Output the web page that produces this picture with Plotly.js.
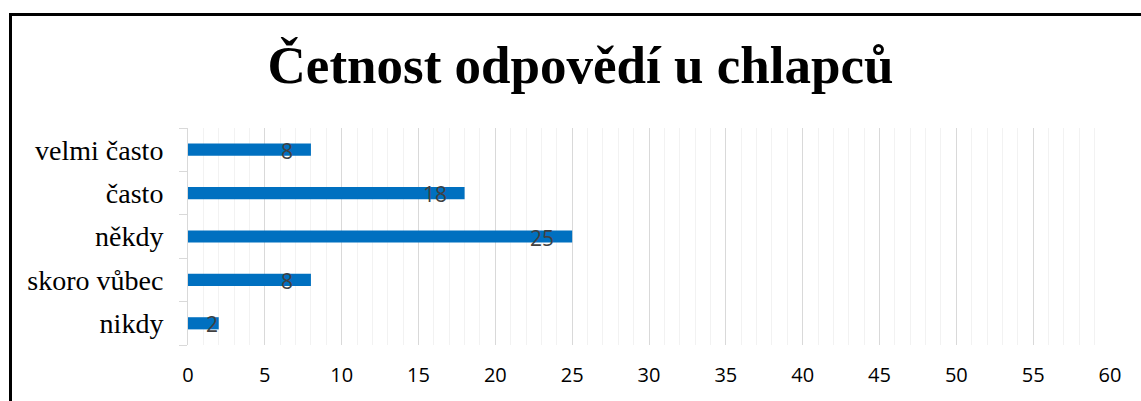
<!DOCTYPE html>
<html>
<head>
<meta charset="utf-8">
<script src="https://cdn.plot.ly/plotly-3.0.1.min.js"></script>
<style>
  html, body { margin: 0; padding: 0; background: #ffffff; }
  #chart { width: 1141px; height: 401px; position: relative; }
  #frame { position: absolute; left: 9px; top: 13px; width: 1200px; height: 500px;
           border-left: 3px solid #000; border-top: 3px solid #000; pointer-events: none; z-index: 5; }
  #wrap { position: relative; width: 1141px; height: 401px; overflow: hidden; }
</style>
</head>
<body>
<div id="wrap">
  <div id="chart"></div>
  <div id="frame"></div>
</div>
<script>
const categories = ['nikdy', 'skoro vůbec', 'někdy', 'často', 'velmi často'];
const counts = [2, 8, 25, 18, 8];
const labels = ['2', '8', '25', '18', '8'];
const titleText = 'Četnost odpovědí u chlapců';

const xMax = 60;
const plotLeft = 188, plotRight = 1110;
const pxPerUnit = (plotRight - plotLeft) / xMax;

const annotations = counts.map((v, i) => {
  const barPx = v * pxPerUnit;
  const approxW = labels[i].length * 11.5;
  const short = barPx - 16 - approxW < 16;
  return {
    x: short ? 0 : v, y: categories[i], xref: 'x', yref: 'y',
    text: labels[i], showarrow: false,
    xanchor: short ? 'left' : 'right', xshift: short ? 16 : -16, yshift: -1,
    font: { family: 'Open Sans', size: 21, color: '#404040' }
  };
});

const trace = {
  type: 'bar', orientation: 'h',
  x: counts, y: categories,
  marker: { color: '#0070C0' },
  hoverinfo: 'none'
};

const layout = {
  width: 1141, height: 401,
  margin: { l: plotLeft, r: 1141 - plotRight, t: 128, b: 56, pad: 0 },
  paper_bgcolor: '#ffffff', plot_bgcolor: '#ffffff',
  bargap: 0.72,
  showlegend: false,
  title: {
    text: titleText, xref: 'container', yref: 'container',
    x: 580.5 / 1141, xanchor: 'center', y: 1 - 64 / 401, yanchor: 'middle',
    font: { family: 'Liberation Serif', size: 53, color: '#000000', weight: 'bold' }
  },
  xaxis: {
    range: [0, xMax], dtick: 5, tick0: 0,
    showgrid: true, gridcolor: '#d9d9d9', gridwidth: 1,
    minor: { dtick: 1, showgrid: true, gridcolor: '#f2f2f2', gridwidth: 1 },
    zeroline: false, showline: false, ticks: '',
    ticklabelstandoff: 16,
    tickfont: { family: 'Open Sans', size: 20, color: '#000000' },
    fixedrange: true
  },
  yaxis: {
    type: 'category',
    showgrid: false, zeroline: false,
    showline: true, linecolor: '#d9d9d9', linewidth: 1,
    ticks: 'outside', tickson: 'boundaries', ticklen: 8, tickcolor: '#d9d9d9',
    ticklabelstandoff: 18,
    tickfont: { family: 'Liberation Serif', size: 28, color: '#000000' },
    fixedrange: true
  },
  annotations: annotations
};

Plotly.newPlot('chart', [trace], layout, { displayModeBar: false, staticPlot: true });
</script>
</body>
</html>
